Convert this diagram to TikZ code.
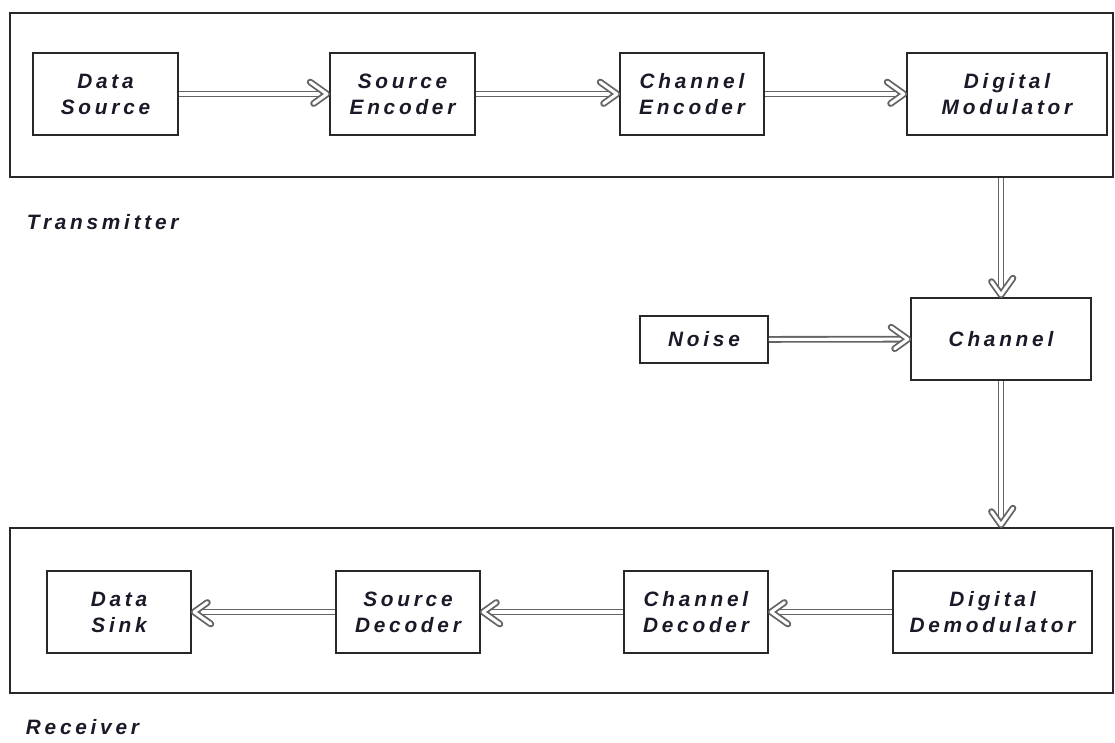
\documentclass[tikz,border=0pt]{standalone}
\usepackage{fontspec}
\setmainfont{Liberation Sans}[LetterSpace=18]
\usetikzlibrary{positioning,arrows.meta,decorations.markings}
\definecolor{boxline}{RGB}{40,40,40}
\definecolor{pipegray}{RGB}{100,100,100}
\definecolor{labelink}{RGB}{25,25,40}

\begin{document}
\begin{tikzpicture}[x=0.025cm,y=-0.025cm,
    every node/.style={font=\fontsize{14.8}{18.5}\selectfont\bfseries\itshape, text=labelink},
    stage/.style={draw=boxline, line width=1.2pt, minimum width=3.625cm, minimum height=2.05cm, inner sep=0pt, align=center},
    frame/.style={draw=boxline, line width=1.2pt, minimum width=27.575cm, inner sep=0pt},
    hollow/.style={draw=pipegray, line width=1.3pt, double=white, double distance=2.2pt},
    pipe/.style={hollow, shorten >=3pt,
      postaction={decorate, decoration={markings, mark=at position 1 with {
        \draw[hollow, line join=round, line cap=round] (-13.5pt,8.5pt) -- (-1.6pt,0pt) -- (-13.5pt,-8.5pt);}}}}]
      \useasboundingbox (0,0) rectangle (1115,742);
      % transmitter and receiver frames
      \node[frame, minimum height=4.1cm] (tx) at (561.5,95) {};
      \node[frame, minimum height=4.125cm] (rx) at (561.5,610.5) {};
      \node[anchor=west] (txlabel) at (22,222) {Transmitter};
      \node[anchor=west] (rxlabel) at (21,727) {Receiver};
      % transmitter chain
      \node[stage] (dsrc) at (105.5,94) {Data\\Source};
      \node[stage] (senc) at (402.5,94) {Source\\Encoder};
      \node[stage, minimum width=3.6cm] (cenc) at (692,94) {Channel\\Encoder};
      \node[stage, minimum width=5cm] (dmod) at (1007,94) {Digital\\Modulator};
      % channel
      \node[stage, minimum width=3.2cm, minimum height=1.175cm] (noise) at (704,339.5) {Noise};
      \node[stage, minimum width=4.5cm] (chan) at (1001,339) {Channel};
      % receiver chain
      \node[stage, minimum width=3.6cm] (sink) at (119,612) {Data\\Sink};
      \node[stage, minimum width=3.6cm] (sdec) at (408,612) {Source\\Decoder};
      \node[stage, minimum width=3.6cm] (cdec) at (696,612) {Channel\\Decoder};
      \node[stage, minimum width=4.975cm] (ddem) at (992.5,612) {Digital\\Demodulator};
      \coordinate (txout) at (chan.north |- tx.south);
      \coordinate (rxin) at (chan.south |- rx.north);
      \foreach \a/\b in {dsrc/senc,senc/cenc,cenc/dmod,noise/chan,ddem/cdec,cdec/sdec,sdec/sink}
        \draw[pipe] (\a) -- (\b);
      \draw[pipe] (txout) -- (chan.north);
      \draw[pipe] (chan.south) -- (rxin);
    \end{tikzpicture}
\end{document}
